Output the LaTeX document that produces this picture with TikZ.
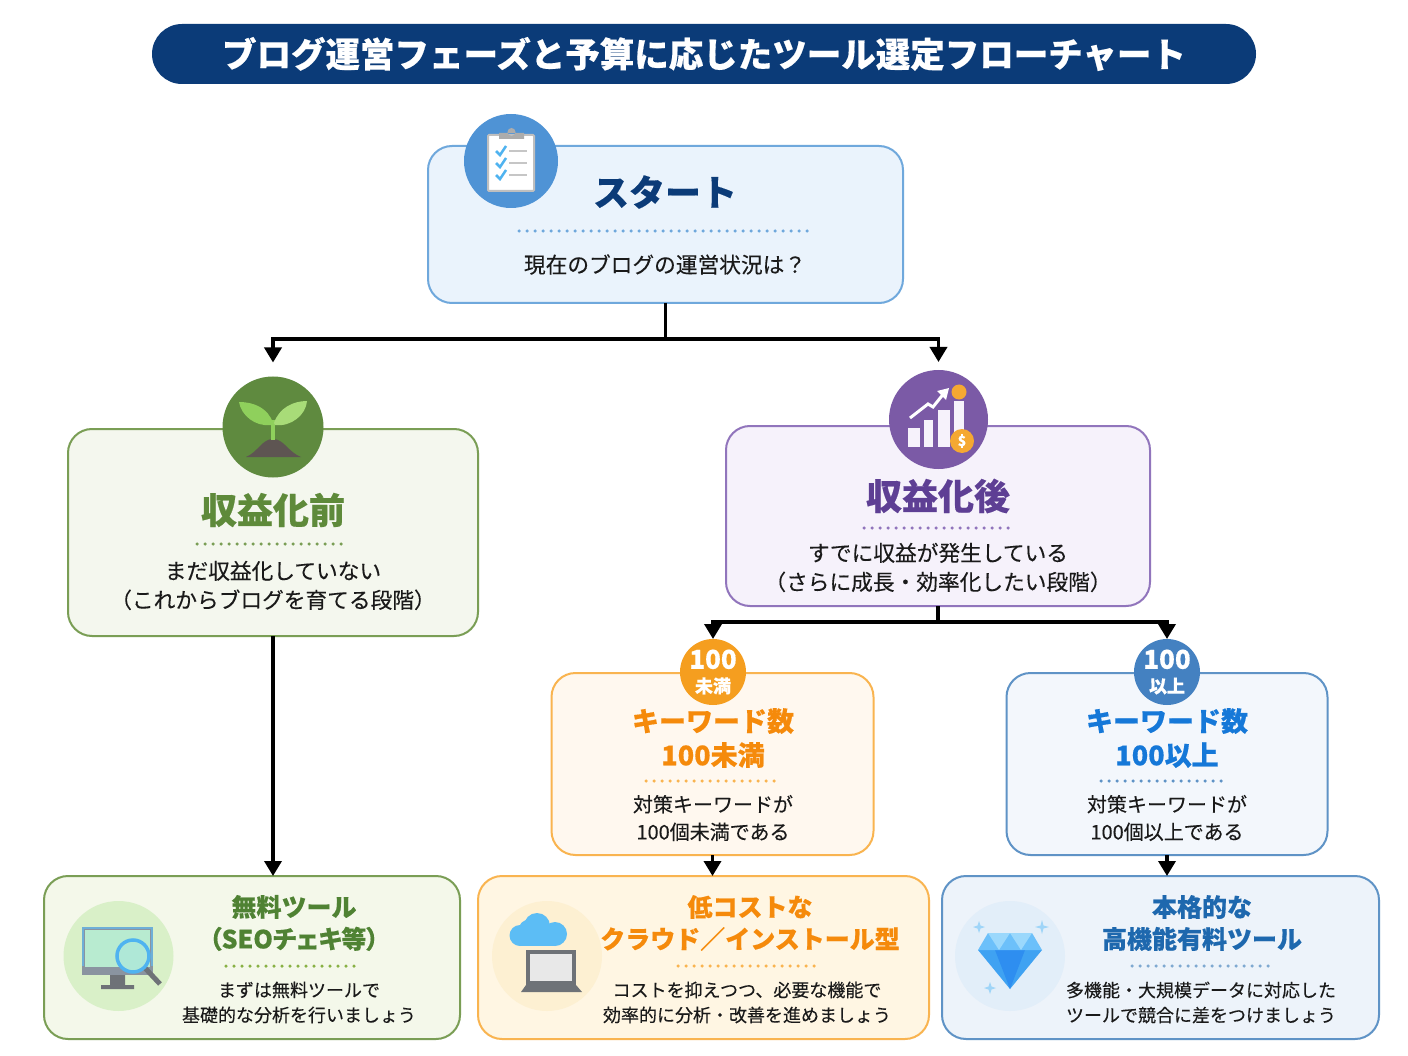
\documentclass[tikz,border=0pt]{standalone}
\usepackage{fontspec}
\setmainfont{Noto Sans CJK JP}[FakeBold=0.2,BoldFeatures={FakeBold=0.4}]
\usepackage{tikz}
\usetikzlibrary{calc,arrows.meta}

\definecolor{navy}{HTML}{0B3B78}
\definecolor{startline}{HTML}{6FA8DC}
\definecolor{preline}{HTML}{7A9E55}
\definecolor{postline}{HTML}{9175BC}
\definecolor{lowline}{HTML}{F9B450}
\definecolor{highline}{HTML}{5F93C6}
\definecolor{bodytext}{HTML}{1A1A1A}
\definecolor{startfill}{HTML}{EAF3FC}
\definecolor{prefill}{HTML}{F4F7EE}
\definecolor{postfill}{HTML}{F6F2FB}
\definecolor{lowfill}{HTML}{FFF8EF}
\definecolor{highfill}{HTML}{F3F7FC}
\definecolor{freefill}{HTML}{F4F8EA}
\definecolor{cloudfill}{HTML}{FFF6E3}
\definecolor{paidfill}{HTML}{EDF3FA}
\definecolor{startcirc}{HTML}{4F93D5}
\definecolor{precirc}{HTML}{5F8A3F}
\definecolor{postcirc}{HTML}{7B5AA6}
\definecolor{lowcirc}{HTML}{F59E1F}
\definecolor{highcirc}{HTML}{4481C1}
\definecolor{freecirc}{HTML}{D9F0C8}
\definecolor{cloudcirc}{HTML}{FDF0D2}
\definecolor{paidcirc}{HTML}{E2EEF9}
\definecolor{prehead}{HTML}{5E8A3A}
\definecolor{posthead}{HTML}{5E3F94}
\definecolor{lowhead}{HTML}{F58A0B}
\definecolor{highhead}{HTML}{1578D8}
\definecolor{freehead}{HTML}{4F8233}
\definecolor{paidhead}{HTML}{1E68AE}
\definecolor{checkblue}{HTML}{4FB3F0}
\definecolor{laptopgray}{HTML}{6E7277}
\definecolor{soil}{HTML}{5E5552}
\definecolor{leafa}{HTML}{8FD05C}
\definecolor{leafb}{HTML}{A8DC78}
\definecolor{coin}{HTML}{F5A832}
\definecolor{bezel}{HTML}{8A94A0}
\definecolor{frameblue}{HTML}{6EAFD7}
\definecolor{screen}{HTML}{B8EBD0}
\definecolor{lens}{HTML}{AFE8D7}
\definecolor{skyblue}{HTML}{5CBDF5}
\definecolor{gema}{HTML}{3FA2F2}
\definecolor{gemb}{HTML}{2E8EF0}
\definecolor{gemc}{HTML}{6CC0FA}
\definecolor{gemd}{HTML}{9BD8FC}
\definecolor{spark}{HTML}{9FD5F8}
\newcommand{\fsz}[2]{\fontsize{#1}{#2}\selectfont}

\tikzset{
	box/.style={draw,rounded corners=24pt,line width=2pt,inner sep=0pt,outer sep=0pt},
	iconcirc/.style={circle,inner sep=0pt,outer sep=0pt},
	flow/.style={line width=3.5pt,black,-{Triangle[length=15pt,width=17pt]}},
	branch/.style={line width=3.5pt,black},
	rule/.style={line width=3.5pt,line cap=round,dash pattern=on 0pt off 8pt},
	head/.style 2 args={font=\bfseries\fsz{#1}{#2},align=center,inner sep=0pt},
	desc/.style={font=\fsz{21.7}{29},align=center,inner sep=0pt,text=bodytext},
	small desc/.style={font=\fsz{20}{27.5},align=center,inner sep=0pt,text=bodytext},
	tool desc/.style={font=\fsz{18}{25},align=center,inner sep=0pt,text=bodytext},
}

\begin{document}
\begin{tikzpicture}[x=1pt,y=-1pt]
	\useasboundingbox[fill=white] (0,0) rectangle (1408,1056);
	%タイトル
	\node[fill=navy,rounded corners=30pt,minimum width=1104pt,minimum height=60pt,inner sep=0pt,text=white,font=\bfseries\fsz{34.5}{40}] (title) at (704,54) {ブログ運営フェーズと予算に応じたツール選定フローチャート};

	%ボックス
	\node[box,draw=startline,fill=startfill,minimum width=475pt,minimum height=157pt] (start) at (665.5,224.5) {};
	\node[box,draw=preline,fill=prefill,minimum width=410pt,minimum height=207pt] (pre) at (273,532.5) {};
	\node[box,draw=postline,fill=postfill,minimum width=424pt,minimum height=180pt] (post) at (938,516) {};
	\node[box,draw=lowline,fill=lowfill,minimum width=322pt,minimum height=182pt] (low) at (712.5,764) {};
	\node[box,draw=highline,fill=highfill,minimum width=321pt,minimum height=182pt] (high) at (1167,764) {};
	\node[box,draw=preline,fill=freefill,minimum width=416pt,minimum height=163pt] (free) at (252,957.5) {};
	\node[box,draw=lowline,fill=cloudfill,minimum width=451pt,minimum height=163pt] (cloud) at (703.5,957.5) {};
	\node[box,draw=highline,fill=paidfill,minimum width=437pt,minimum height=163pt] (paid) at (1160.5,957.5) {};

	%丸
	\node[iconcirc,fill=startcirc,minimum size=94pt] (iconstart) at (511,161) {};
	\node[iconcirc,fill=precirc,minimum size=101pt] (iconpre) at (273,427) {};
	\node[iconcirc,fill=postcirc,minimum size=99pt] (iconpost) at (938.5,419.5) {};
	\node[iconcirc,fill=lowcirc,minimum size=66pt,text=white,align=center,font=\bfseries\fsz{26}{27}] (badgelow) at (713,672) {100\\[-3pt]\fsz{18}{18}未満};
	\node[iconcirc,fill=highcirc,minimum size=66pt,text=white,align=center,font=\bfseries\fsz{26}{27}] (badgehigh) at (1167,672) {100\\[-3pt]\fsz{18}{18}以上};
	\node[iconcirc,fill=freecirc,minimum size=110pt] (iconfree) at (118.5,956) {};
	\node[iconcirc,fill=cloudcirc,minimum size=110pt] (iconcloud) at (547,956) {};
	\node[iconcirc,fill=paidcirc,minimum size=110pt] (iconpaid) at (1010,956) {};

	%クリップボード
	\fill[white,draw=gray!50,line width=2pt,rounded corners=1pt] (488,135) rectangle (534,191);
	\fill[gray!65] (499,133) rectangle (524,139) (511.5,132) circle (4);
	\foreach \y in {151,163,175}{ %チェック
		\draw[line width=2.5pt,checkblue] (496,\y) -- (500,\y+4) -- (506,\y-5);
		\draw[line width=2pt,gray!45] (509,\y) -- (527,\y);
	}

	%芽
	\fill[soil] (246,457) .. controls (258,452) and (262,439) .. (273,439) .. controls (284,439) and (288,452) .. (301,457) -- cycle;
	\draw[line width=4pt,leafa] (273,440) -- (273,420);
	\fill[leafa] (273,423) .. controls (268,408) and (254,402) .. (239,402) .. controls (241,415) and (255,427) .. (271,425) -- cycle;
	\fill[leafb] (274,423) .. controls (279,408) and (293,401) .. (307,401) .. controls (306,415) and (291,427) .. (275,425) -- cycle;

	%グラフ
	\foreach \xa/\xb/\ytop in {908/920/428,924/933/420,938/950/410,954/964/401}{
		\fill[postfill] (\xa,\ytop) rectangle (\xb,447);
	}
	\draw[white,line width=3pt] (910,418) -- (928,404) -- (933,407) -- (945,392);
	\fill[white] (949,388) -- (937,391) -- (946,400) -- cycle;
	\fill[coin] (959,392) circle (7.5) (962,441) circle (12);
	\node[inner sep=0pt,text=white,font=\bfseries\fsz{14}{14}] (dollar) at (962,441) {\$};

	%モニタ
	\fill[bezel] (82,927) rectangle (153,975);
	\fill[screen] (85,930) rectangle (150,967);
	\draw[frameblue,line width=2pt] (83,966) -- (83,928) -- (152,928) -- (152,966);
	\fill[laptopgray] (110,975) rectangle (125,985) (101,985) rectangle (134,989);
	\draw[laptopgray,line width=5pt] (145,968) -- (160,984);
	\draw[checkblue,line width=3.5pt,fill=lens] (133,956) circle (16);

	%雲とノートPC
	\foreach \cx/\cy/\cr in {520/935.5/10.5,528/929/9,537/926/13,555/934/12}{ %雲
		\fill[skyblue] (\cx,\cy) circle (\cr);
	}
	\fill[skyblue] (520,936) rectangle (555,946);
	\fill[laptopgray] (526,950) rectangle (576,985);
	\fill[gray!18] (530,954) rectangle (572,981);
	\fill[laptopgray] (526,985) -- (576,985) -- (582,992) -- (521,992) -- cycle;

	%ダイヤ
	\fill[gema] (978,950) -- (1042,950) -- (1010,989) -- cycle;
	\fill[gemb] (995,950) -- (1025,950) -- (1010,989) -- cycle;
	\fill[gemc] (988,933) -- (1032,933) -- (1042,950) -- (978,950) -- cycle;
	\fill[gemd] (988,933) -- (999,950) -- (1010,933) -- (1021,950) -- (1032,933) -- cycle;
	\foreach \sx/\sy/\sr in {979/927/6,1042/927/7,990/988/6}{ %きらきら
		\fill[spark] (\sx,\sy-\sr) -- (\sx+1.5,\sy-1.5) -- (\sx+\sr,\sy) -- (\sx+1.5,\sy+1.5) -- (\sx,\sy+\sr) -- (\sx-1.5,\sy+1.5) -- (\sx-\sr,\sy) -- (\sx-1.5,\sy-1.5) -- cycle;
	}

	%見出し
	\node[head={36}{44},text=navy] (starthd) at (665,192) {スタート};
	\node[head={36}{44},text=prehead] (prehd) at (273,510) {収益化前};
	\node[head={36}{44},text=posthead] (posthd) at (938,496) {収益化後};
	\node[head={27}{34},text=lowhead] (lowhd) at (713,738) {キーワード数\\100未満};
	\node[head={27}{34},text=highhead] (highhd) at (1167,738) {キーワード数\\100以上};
	\node[head={25}{32},text=freehead] (freehd) at (294,923) {無料ツール\\\addfontfeature{RawFeature=+palt}（SEOチェキ等）};
	\node[head={25}{32},text=lowhead] (cloudhd) at (750,923) {低コストな\\クラウド／インストール型};
	\node[head={25}{32},text=paidhead] (paidhd) at (1202,923) {本格的な\\高機能有料ツール};

	%点線
	\draw[rule,startline] (519,231) -- (814,231);
	\draw[rule,preline] (197,544) -- (348,544);
	\draw[rule,postline] (864,528) -- (1014,528);
	\draw[rule,lowline] (646,781) -- (780,781);
	\draw[rule,highline] (1101,781) -- (1228,781);
	\draw[rule,preline!80!lime] (226,966) -- (358,966);
	\draw[rule,lowline] (678,966) -- (817,966);
	\draw[rule,highline!80] (1132,966) -- (1275,966);

	%説明
	\node[desc] (startdesc) at (665,264.5) {現在のブログの運営状況は？};
	\node[desc] (predesc) at (273,585.5) {まだ収益化していない\\（これからブログを育てる段階）};
	\node[desc] (postdesc) at (938,567.5) {すでに収益が発生している\\（さらに成長・効率化したい段階）};
	\node[small desc] (lowdesc) at (713,818) {対策キーワードが\\100個未満である};
	\node[small desc] (highdesc) at (1167,818) {対策キーワードが\\100個以上である};
	\node[tool desc] (freedesc) at (299,1002.5) {まずは無料ツールで\\基礎的な分析を行いましょう};
	\node[tool desc] (clouddesc) at (747,1002.5) {コストを抑えつつ、必要な機能で\\効率的に分析・改善を進めましょう};
	\node[tool desc] (paiddesc) at (1201,1002.5) {多機能・大規模データに対応した\\ツールで競合に差をつけましょう};

	%矢印
	\coordinate (forkstart) at ($(start.south)+(0,36)$);
	\coordinate (forkpost) at ($(post.south)+(0,16)$);
	\draw[branch] (start.south) -- (forkstart);
	\draw[flow,shorten >=14pt] (forkstart) -| (iconpre.north);
	\draw[flow,shorten >=8pt] (forkstart) -| (iconpost.north);
	\draw[branch] (post.south) -- (forkpost);
	\draw[flow] (forkpost) -| (badgelow.north);
	\draw[flow] (forkpost) -| (badgehigh.north);
	\draw[flow] (pre.south) -- (pre.south |- free.north);
	\draw[flow] (low.south) -- (low.south |- cloud.north);
	\draw[flow] (high.south) -- (high.south |- paid.north);
\end{tikzpicture}
\end{document}
